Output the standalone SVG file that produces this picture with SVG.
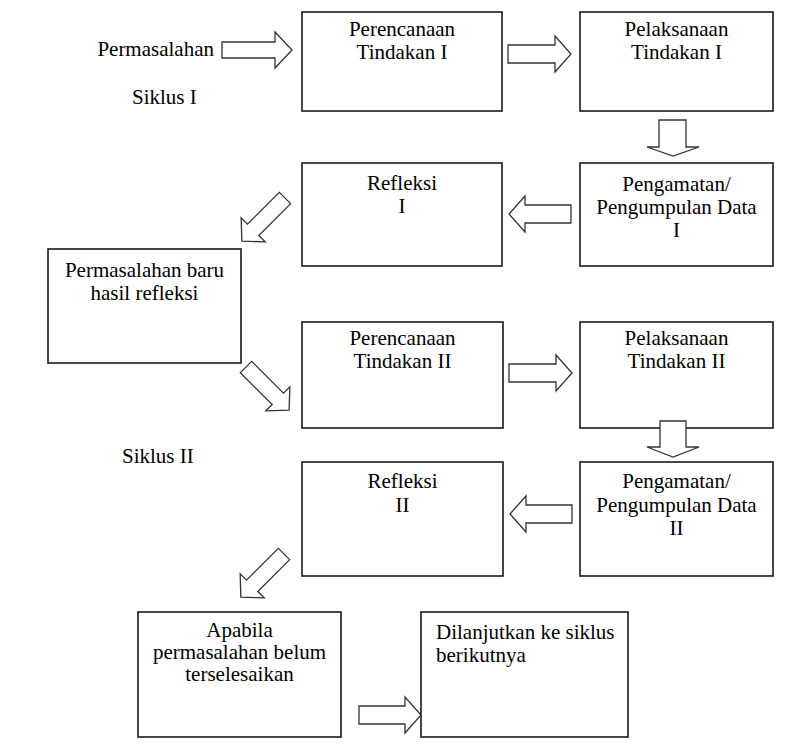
<svg xmlns="http://www.w3.org/2000/svg" width="788" height="749" viewBox="0 0 788 749">
<style>
.box{fill:#fff;stroke:#1a1a1a;stroke-width:1.6}
.arr{fill:#fff;stroke:#333;stroke-width:1.3;stroke-linejoin:miter}
text{font-family:'Liberation Serif','DejaVu Serif',serif;font-size:21px;fill:#000}
.c{text-anchor:middle}
</style>
<rect width="788" height="749" fill="#fff"/>
<g id="n-perencanaan1"><rect class="box" x="302" y="12" width="200" height="99"/><text class="c" x="402" y="36">Perencanaan</text><text class="c" x="402" y="59">Tindakan I</text></g>
<g id="n-pelaksanaan1"><rect class="box" x="580" y="12" width="193" height="99"/><text class="c" x="676.5" y="36">Pelaksanaan</text><text class="c" x="676.5" y="59">Tindakan I</text></g>
<g id="n-refleksi1"><rect class="box" x="302" y="163" width="200" height="103"/><text class="c" x="402" y="190">Refleksi</text><text class="c" x="402" y="213">I</text></g>
<g id="n-pengamatan1"><rect class="box" x="580" y="163" width="193" height="103"/><text class="c" x="676.5" y="191">Pengamatan/</text><text class="c" x="676.5" y="214">Pengumpulan Data</text><text class="c" x="676.5" y="237">I</text></g>
<g id="n-permasalahanbaru"><rect class="box" x="48" y="249" width="193" height="114"/><text class="c" x="144.5" y="277">Permasalahan baru</text><text class="c" x="144.5" y="300">hasil refleksi</text></g>
<g id="n-perencanaan2"><rect class="box" x="302" y="322" width="201" height="106"/><text class="c" x="402.5" y="345">Perencanaan</text><text class="c" x="402.5" y="368">Tindakan II</text></g>
<g id="n-pelaksanaan2"><rect class="box" x="580" y="322" width="193" height="106"/><text class="c" x="676.5" y="345">Pelaksanaan</text><text class="c" x="676.5" y="368">Tindakan II</text></g>
<g id="n-refleksi2"><rect class="box" x="302" y="462" width="201" height="114"/><text class="c" x="402.5" y="488">Refleksi</text><text class="c" x="402.5" y="512">II</text></g>
<g id="n-pengamatan2"><rect class="box" x="580" y="462" width="193" height="114"/><text class="c" x="676.5" y="488">Pengamatan/</text><text class="c" x="676.5" y="512">Pengumpulan Data</text><text class="c" x="676.5" y="535">II</text></g>
<g id="n-apabila"><rect class="box" x="138" y="612" width="203" height="125"/><text class="c" x="239.5" y="637">Apabila</text><text class="c" x="239.5" y="659">permasalahan belum</text><text class="c" x="239.5" y="681">terselesaikan</text></g>
<g id="n-dilanjutkan"><rect class="box" x="421" y="612" width="207" height="125"/><text x="436" y="639">Dilanjutkan ke siklus</text><text x="436" y="662">berikutnya</text></g>
<g id="labels">
<text x="214" y="56" text-anchor="end">Permasalahan</text>
<text x="132" y="104">Siklus I</text>
<text x="122" y="463">Siklus II</text>
</g>
<g id="connectors">
<path class="arr" d="M222,42 H275 V32 L292,50 L275,68 V58 H222 Z"/>
<path class="arr" d="M508,45 H555 V36 L571,54 L555,72 V63 H508 Z"/>
<path class="arr" d="M659,120 H686 V147 H699 L673,156 L647,147 H659 Z"/>
<path class="arr" transform="translate(285,198) rotate(135)" d="M0,-8 H45 V-17 L61,0 L45,17 V8 H0 Z"/>
<path class="arr" d="M571,205 H525 V196 L509,214 L525,232 V223 H571 Z"/>
<path class="arr" transform="translate(246,367) rotate(45)" d="M0,-8 H45 V-17 L61,0 L45,17 V8 H0 Z"/>
<path class="arr" d="M509,364 H556 V355 L572,373 L556,391 V382 H509 Z"/>
<path class="arr" d="M660,421 H686 V447 H699 L673,457 L647,447 H660 Z"/>
<path class="arr" d="M572,505 H526 V496 L510,514 L526,532 V523 H572 Z"/>
<path class="arr" transform="translate(284,554) rotate(135)" d="M0,-8 H45 V-17 L61,0 L45,17 V8 H0 Z"/>
<path class="arr" d="M359,706 H405 V697 L421,715 L405,733 V724 H359 Z"/>
</g>
</svg>
